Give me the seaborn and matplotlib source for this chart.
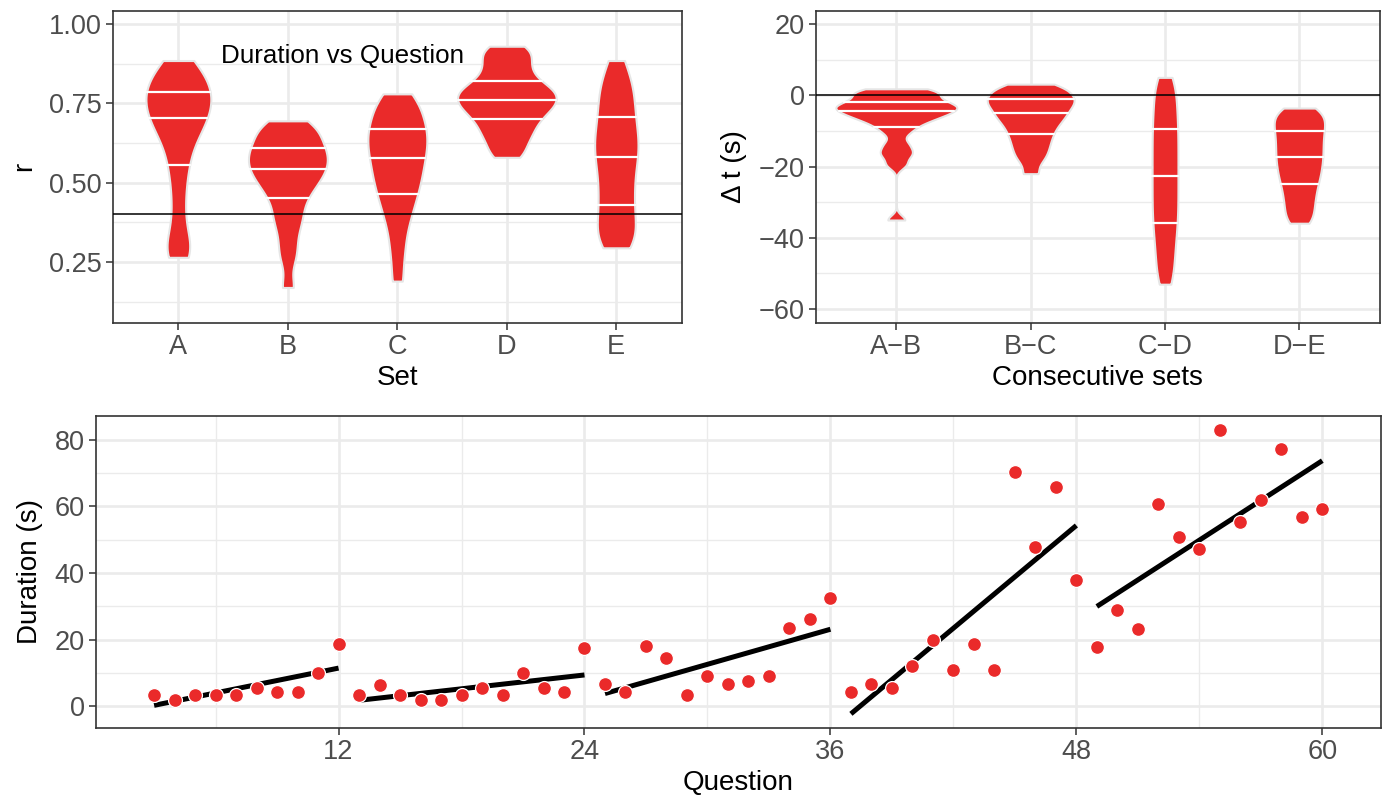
import numpy as np
import pandas as pd
import matplotlib
matplotlib.use("Agg")
import matplotlib.pyplot as plt
from matplotlib.ticker import MultipleLocator, FixedLocator, FuncFormatter
import seaborn as sns

# ---------------- data ----------------
sets = ["A", "B", "C", "D", "E"]
r_A = [0.265, 0.285, 0.31, 0.37, 0.44, 0.505, 0.555, 0.595, 0.63, 0.655, 0.675, 0.69, 0.705,
       0.72, 0.735, 0.75, 0.762, 0.773, 0.785, 0.80, 0.815, 0.83, 0.847, 0.865, 0.885]
r_B = [0.17, 0.26, 0.31, 0.36, 0.39, 0.42, 0.452, 0.472, 0.49, 0.506, 0.52, 0.532, 0.543,
       0.555, 0.567, 0.578, 0.589, 0.60, 0.61, 0.625, 0.64, 0.655, 0.668, 0.682, 0.695]
r_C = [0.19, 0.27, 0.33, 0.38, 0.41, 0.44, 0.465, 0.485, 0.505, 0.525, 0.542, 0.56, 0.578,
       0.595, 0.61, 0.625, 0.64, 0.655, 0.67, 0.685, 0.703, 0.722, 0.742, 0.762, 0.78]
r_D = [0.58, 0.605, 0.63, 0.65, 0.667, 0.683, 0.70, 0.712, 0.724, 0.735, 0.745, 0.753, 0.762,
       0.771, 0.78, 0.789, 0.798, 0.808, 0.82, 0.84, 0.857, 0.878, 0.898, 0.915, 0.93]
r_E = [0.295, 0.31, 0.33, 0.352, 0.375, 0.40, 0.43, 0.455, 0.48, 0.505, 0.535, 0.558, 0.58,
       0.60, 0.62, 0.64, 0.66, 0.683, 0.708, 0.735, 0.76, 0.785, 0.81, 0.84, 0.885]
r_threshold = 0.4

pairs = ["A\u2212B", "B\u2212C", "C\u2212D", "D\u2212E"]
dt_AB = [1.8, 1.4, 0.9, 0.3, -0.4, -1.2, -1.9, -2.4, -2.8, -3.2, -3.6, -4.0, -4.5,
         -5.0, -5.5, -6.1, -6.8, -7.6, -8.8, -10.5, -13.5, -15.5, -17.0, -19.5, -35.0]
dt_BC = [3.1, 2.4, 1.7, 1.0, 0.3, -0.4, -1.1, -1.6, -2.2, -2.8, -3.5, -4.3, -5.1,
         -5.8, -6.6, -7.5, -8.5, -9.6, -10.8, -12.1, -13.5, -15.0, -16.6, -18.5, -22.0]
dt_CD = [5.0, 2.5, 0.0, -2.5, -5.0, -7.3, -9.5, -11.7, -13.9, -16.1, -18.3, -20.5, -22.7,
         -24.9, -27.1, -29.3, -31.5, -33.7, -35.9, -38.3, -40.8, -43.6, -46.6, -49.8, -53.0]
dt_DE = [-3.6, -4.6, -5.6, -6.7, -7.8, -8.9, -10.0, -11.2, -12.4, -13.6, -14.8, -16.0, -17.2,
         -18.4, -19.6, -20.9, -22.2, -23.5, -25.0, -26.6, -28.3, -30.1, -32.0, -34.0, -35.9]
dt_ref = 0

q_A = [3, 4, 5, 6, 7, 8, 9, 10, 11, 12]
d_A = [3.3, 2.0, 3.4, 3.4, 3.4, 5.6, 4.3, 4.3, 10.0, 18.8]
q_B = [13, 14, 15, 16, 17, 18, 19, 20, 21, 22, 23, 24]
d_B = [3.3, 6.5, 3.4, 2.0, 2.0, 3.4, 5.6, 3.4, 10.0, 5.4, 4.3, 17.6]
q_C = [25, 26, 27, 28, 29, 30, 31, 32, 33, 34, 35, 36]
d_C = [6.7, 4.3, 18.0, 14.5, 3.4, 9.0, 6.7, 7.7, 9.0, 23.5, 26.1, 32.5]
q_D = [37, 38, 39, 40, 41, 42, 43, 44, 45, 46, 47, 48]
d_D = [4.4, 6.7, 5.5, 12.2, 20.0, 11.0, 18.8, 11.0, 70.4, 47.9, 65.9, 37.9]
q_E = [49, 50, 51, 52, 53, 54, 55, 56, 57, 58, 59, 60]
d_E = [17.8, 28.9, 23.3, 60.7, 50.8, 47.2, 82.9, 55.3, 61.8, 77.2, 56.7, 59.2]

# ---------------- style ----------------
RED = "#EA2A2A"
GRID = "#EBEBEB"
BORDER = "#333333"
TICKLAB = "#4D4D4D"
sns.set_style("white")
plt.rcParams["font.family"] = ["Liberation Sans", "DejaVu Sans"]


def nrd0(kde):
    x = np.asarray(kde.dataset).ravel()
    n = x.size
    sd = x.std(ddof=1)
    q75, q25 = np.percentile(x, [75, 25])
    lo = min(sd, (q75 - q25) / 1.34)
    return 0.9 * lo * n ** (-0.2) / sd


def style_axes(ax):
    ax.set_axisbelow(True)
    for sp in ax.spines.values():
        sp.set_visible(True)
        sp.set_color(BORDER)
        sp.set_linewidth(1.2)
    ax.grid(True, which="major", color=GRID, linewidth=1.9)
    ax.grid(True, which="minor", color=GRID, linewidth=1.0)
    ax.tick_params(which="major", length=5, width=1.1, color=BORDER,
                   labelcolor=TICKLAB, labelsize=19.5, pad=3,
                   bottom=True, left=True)
    ax.tick_params(which="minor", length=0)


W, H = 1386, 797
fig = plt.figure(figsize=(W / 100, H / 100), dpi=100)


def px_axes(l, t, r, b):
    return fig.add_axes([l / W, 1 - b / H, (r - l) / W, (b - t) / H])


ax1 = px_axes(112.7, 10.7, 682.0, 322.7)
ax2 = px_axes(815.7, 10.7, 1380.0, 322.7)
ax3 = px_axes(95.7, 416.0, 1380.7, 727.7)

violin_kws = dict(color=RED, saturation=1, linecolor="#E6E6E6", linewidth=1.5,
                  inner="quart", inner_kws=dict(color="white", linewidth=1.6),
                  cut=0, density_norm="area", width=0.9, bw_method=nrd0,
                  gridsize=400)

# ---------- panel 1: r by set ----------
df_r = pd.DataFrame({
    "Set": sum([[s] * len(v) for s, v in zip(sets, [r_A, r_B, r_C, r_D, r_E])], []),
    "r": r_A + r_B + r_C + r_D + r_E,
})
sns.violinplot(data=df_r, x="Set", y="r", order=sets, ax=ax1, bw_adjust=0.65, **violin_kws)
for ln in ax1.lines:
    ln.set_linestyle("-")
ax1.axhline(r_threshold, color="black", linewidth=1.1, zorder=5)
ax1.text(1.5, 0.9, "Duration vs Question", ha="center", va="center",
         fontsize=18.7, color="black")
ax1.set_xlim(-0.6, 4.6)
ax1.set_ylim(0.059, 1.042)
ax1.yaxis.set_major_locator(FixedLocator([0.25, 0.5, 0.75, 1.0]))
ax1.yaxis.set_minor_locator(FixedLocator([0.125, 0.375, 0.625, 0.875]))
ax1.yaxis.set_major_formatter(FuncFormatter(lambda v, p: f"{v:.2f}"))
style_axes(ax1)
ax1.set_xlabel("Set", fontsize=20, color="black", labelpad=4)
ax1.set_ylabel("r", fontsize=20, color="black", labelpad=8)

# ---------- panel 2: delta t ----------
df_dt = pd.DataFrame({
    "pair": sum([[p] * len(v) for p, v in zip(pairs, [dt_AB, dt_BC, dt_CD, dt_DE])], []),
    "dt": dt_AB + dt_BC + dt_CD + dt_DE,
})
sns.violinplot(data=df_dt, x="pair", y="dt", order=pairs, ax=ax2, bw_adjust=0.55, **violin_kws)
for ln in ax2.lines:
    ln.set_linestyle("-")
ax2.axhline(dt_ref, color="black", linewidth=1.1, zorder=5)
ax2.set_xlim(-0.6, 3.6)
ax2.set_ylim(-63.8, 23.7)
ax2.yaxis.set_major_locator(MultipleLocator(20))
ax2.yaxis.set_minor_locator(MultipleLocator(10))
ax2.yaxis.set_major_formatter(FuncFormatter(lambda v, p: f"{int(round(v))}".replace("-", "\u2212")))
style_axes(ax2)
ax2.set_xlabel("Consecutive sets", fontsize=20, color="black", labelpad=4)
ax2.set_ylabel("\u0394 t (s)", fontsize=20, color="black", labelpad=8)

# ---------- panel 3: duration vs question ----------
for q, d in zip([q_A, q_B, q_C, q_D, q_E], [d_A, d_B, d_C, d_D, d_E]):
    sns.regplot(x=q, y=d, ax=ax3, scatter=False, ci=None, truncate=True,
                color="black", line_kws=dict(linewidth=3.6, solid_capstyle="butt"))
q_all = q_A + q_B + q_C + q_D + q_E
d_all = d_A + d_B + d_C + d_D + d_E
sns.scatterplot(x=q_all, y=d_all, ax=ax3, color=RED, edgecolor="white",
                linewidth=0.9, s=100, zorder=4)
ax3.set_xlim(0.15, 62.85)
ax3.set_ylim(-6.45, 87.1)
ax3.xaxis.set_major_locator(FixedLocator([12, 24, 36, 48, 60]))
ax3.xaxis.set_minor_locator(FixedLocator([6, 18, 30, 42, 54]))
ax3.yaxis.set_major_locator(MultipleLocator(20))
ax3.yaxis.set_minor_locator(MultipleLocator(10))
style_axes(ax3)
ax3.set_xlabel("Question", fontsize=20, color="black", labelpad=4)
ax3.set_ylabel("Duration (s)", fontsize=20, color="black", labelpad=8)

fig.savefig("out.png", dpi=100)
